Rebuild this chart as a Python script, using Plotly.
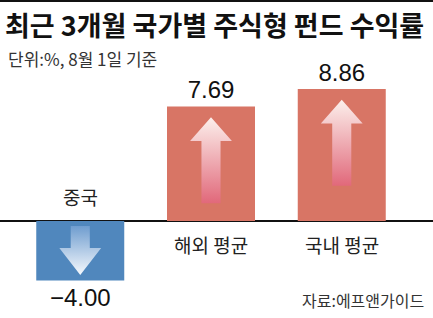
import plotly.graph_objects as go

# ---- data ----
categories = ["중국", "해외 평균", "국내 평균"]
values = [-4.00, 7.69, 8.86]
title_text = "최근 3개월 국가별 주식형 펀드 수익률"
subtitle_text = "단위:%, 8월 1일 기준"
source_text = "자료:에프앤가이드"

# ---- style ----
RED = "#d87565"
BLUE = "#5087bd"
KFONT = "Noto Sans CJK KR"
NFONT = "Liberation Sans Narrow, Liberation Sans, Arial"

W, H = 433, 318
px_per_cat = 130.75
center1_px = 211
px_per_unit = 14.9
base_px = 221

x_range = [-(center1_px - px_per_cat) / px_per_cat, (W - (center1_px - px_per_cat)) / px_per_cat]
y_range = [-(H - base_px) / px_per_unit, base_px / px_per_unit]

xs = list(range(len(categories)))
colors = [RED if v >= 0 else BLUE for v in values]

fig = go.Figure()
fig.add_trace(go.Bar(
    x=xs, y=values, width=0.673,
    marker=dict(color=colors, line=dict(width=0)),
    text=[f"{v:.2f}".replace("-", "−") for v in values],
    textposition="outside",
    textfont=dict(family=NFONT, size=24, color="#111"),
    cliponaxis=False,
    hoverinfo="skip",
))

# gradient arrows inside bars
head_hw = 0.16
shaft_hw = 0.073
for i, v in enumerate(values):
    if v >= 0:
        tip = v - 0.72
        hb = tip - 1.6
        tail = v - 6.5
        scale = [[0, "#e1687a"], [1, "#fcf0ec"]]
    else:
        tip = v + 0.38
        hb = -1.81
        tail = -0.34
        scale = [[0, "#f6f9fd"], [1, "#6f9dcf"]]
    ax = [i - shaft_hw, i - shaft_hw, i - head_hw, i, i + head_hw, i + shaft_hw, i + shaft_hw, i - shaft_hw]
    ay = [tail, hb, hb, tip, hb, hb, tail, tail]
    fig.add_trace(go.Scatter(
        x=ax, y=ay, mode="lines", fill="toself",
        line=dict(width=0),
        fillgradient=dict(type="vertical", colorscale=scale),
        hoverinfo="skip", showlegend=False,
    ))

# category labels
for i, (c, v) in enumerate(zip(categories, values)):
    fig.add_annotation(
        x=i, y=0, text=c, showarrow=False,
        yanchor="bottom" if v < 0 else "top",
        yshift=9 if v < 0 else -8,
        font=dict(family=KFONT, size=19, color="#222"),
    )

# title etc.
fig.add_annotation(xref="paper", yref="paper", x=3 / W, y=1 - 24.5 / H, xanchor="left", yanchor="middle",
                   text=title_text, showarrow=False,
                   font=dict(family=KFONT, size=27, color="#111", weight=700))
fig.add_annotation(xref="paper", yref="paper", x=6 / W, y=1 - 59 / H, xanchor="left", yanchor="middle",
                   text=subtitle_text, showarrow=False,
                   font=dict(family=KFONT, size=17, color="#333"))
fig.add_annotation(xref="paper", yref="paper", x=426 / W, y=1 - 300 / H, xanchor="right", yanchor="middle",
                   text=source_text, showarrow=False,
                   font=dict(family=KFONT, size=16, color="#333"))

fig.add_shape(type="line", xref="paper", yref="paper", x0=0, x1=1, y0=1, y1=1,
              line=dict(color="#111", width=4))

fig.update_layout(
    width=W, height=H, margin=dict(l=0, r=0, t=0, b=0),
    paper_bgcolor="white", plot_bgcolor="white", showlegend=False,
    xaxis=dict(range=x_range, visible=False, fixedrange=True),
    yaxis=dict(range=y_range, showgrid=False, showticklabels=False, zeroline=True,
               zerolinecolor="#111", zerolinewidth=1.5, fixedrange=True),
)

fig.write_html("out.html", config={"displayModeBar": False})
